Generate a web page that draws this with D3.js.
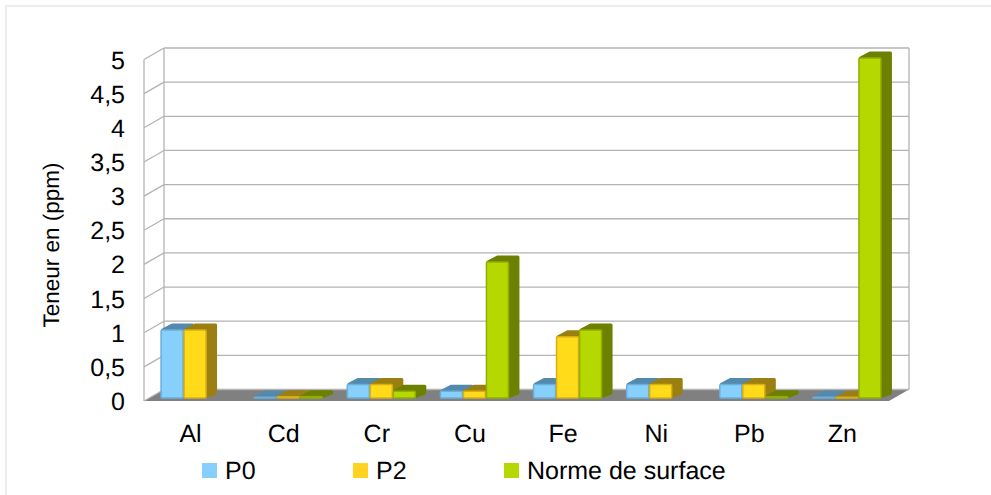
<!DOCTYPE html>
<html lang="fr">
<head>
<meta charset="utf-8">
<title>Teneur en (ppm)</title>
<script src="https://cdn.jsdelivr.net/npm/d3@7/dist/d3.min.js"></script>
<style>
  html, body { margin: 0; padding: 0; background: #fff; overflow: hidden; }
  text { font-family: "Liberation Sans", Arial, sans-serif; fill: #000; text-rendering: geometricPrecision; }
</style>
</head>
<body>
<svg width="991" height="495"></svg>
<script>
// values, null = no bar drawn
var categories = ['Al', 'Cd', 'Cr', 'Cu', 'Fe', 'Ni', 'Pb', 'Zn'];
var seriesNames = ['P0', 'P2', 'Norme de surface'];
var p0 = [1, 0.01, 0.2, 0.1, 0.2, 0.2, 0.2, 0.01];
var p2 = [1, 0.02, 0.2, 0.1, 0.9, 0.2, 0.2, 0.01];
var norme = [null, 0.02, 0.1, 2, 1, null, 0.02, 5];
var yTicks = [0, 0.5, 1, 1.5, 2, 2.5, 3, 3.5, 4, 4.5, 5];

var seriesValues = [p0, p2, norme];
var seriesColors = [
    {front: '#87cffd', edge: '#6aaedb', side: '#5389ad', top: '#5389ad'},
    {front: '#ffdb1a', edge: '#d9ae14', side: '#9a7f12', top: '#9a7f12'},
    {front: '#b5d800', edge: '#93ad00', side: '#6d8000', top: '#6d8000'}
];
var legendSwatch = ['#87cffd', '#ffd320', '#b5d800'];
var legendX = [202, 353, 504];

var svg = d3.select('svg');

// chart frame, runs off the right and bottom of the picture
svg.append('rect')
    .attr('x', 6).attr('y', 6)
    .attr('width', 1000).attr('height', 510)
    .style('fill', 'white')
    .style('stroke', '#e8e8e8')
    .style('stroke-width', 1.5);

// front plane of the 3d box, the back wall is shifted by depth
var plot = {left: 144, right: 889, top: 59.5, bottom: 401};
var depth = {x: 20, y: -11.5};

var x = d3.scaleBand()
    .domain(categories)
    .range([plot.left, plot.right]);

var inner = d3.scaleBand()
    .domain(d3.range(seriesNames.length))
    .range([0, 69]);

var y = d3.scaleLinear()
    .domain([0, 5])
    .range([plot.bottom, plot.top]);

// bars sit a little behind the front plane
var yBar = d3.scaleLinear()
    .domain([0, 5])
    .range([398, 58]);

var gridColor = '#b3b3b3';

// floor
svg.append('polygon')
    .attr('points', [
        [plot.left, plot.bottom],
        [plot.right, plot.bottom],
        [plot.right + depth.x, plot.bottom + depth.y],
        [plot.left + depth.x, plot.bottom + depth.y]
    ].join(' '))
    .style('fill', '#808080');

// grid on the back wall and on the left wall
var grid = svg.append('g')
    .style('stroke', gridColor)
    .style('stroke-width', 1.3)
    .style('fill', 'none');

grid.selectAll('line.back')
    .data(yTicks)
    .enter()
    .append('line')
    .attr('class', 'back')
    .attr('x1', plot.left + depth.x)
    .attr('x2', plot.right + depth.x)
    .attr('y1', d => y(d) + depth.y)
    .attr('y2', d => y(d) + depth.y);

grid.selectAll('line.wall')
    .data(yTicks)
    .enter()
    .append('line')
    .attr('class', 'wall')
    .attr('x1', plot.left)
    .attr('x2', plot.left + depth.x)
    .attr('y1', d => y(d))
    .attr('y2', d => y(d) + depth.y);

grid.append('line')
    .attr('x1', plot.left).attr('x2', plot.left)
    .attr('y1', y(5)).attr('y2', y(0));
grid.append('line')
    .attr('x1', plot.left + depth.x).attr('x2', plot.left + depth.x)
    .attr('y1', y(5) + depth.y).attr('y2', y(0) + depth.y);
grid.append('line')
    .attr('x1', plot.right + depth.x).attr('x2', plot.right + depth.x)
    .attr('y1', y(5) + depth.y).attr('y2', y(0) + depth.y);

// bars
var barShiftX = 5;
var barDepth = {x: 11, y: -6.5};
var gap = 1;
var corner = 1.5;

var bars = [];
categories.forEach(function(c, i) {
    seriesValues.forEach(function(vals, s) {
        if (vals[i] !== null) {
            bars.push({cat: c, s: s, value: vals[i]});
        }
    });
});

var barG = svg.selectAll('g.bar')
    .data(bars)
    .enter()
    .append('g')
    .attr('class', 'bar');

function barLeft(d) {
    return x(d.cat) + (x.bandwidth() - inner.range()[1]) / 2 + inner(d.s) + barShiftX;
}
function barRight(d) { return barLeft(d) + inner.bandwidth() - gap; }
function barBase() { return yBar(0); }
function barTop(d) { return yBar(d.value); }

// side and top faces, fat round stroke gives the soft far corners
barG.append('path')
    .attr('d', d => d3.line().curve(d3.curveLinearClosed)([
        [barLeft(d) + corner, barTop(d)],
        [barLeft(d) + barDepth.x, barTop(d) + barDepth.y + corner],
        [barRight(d) + barDepth.x - corner, barTop(d) + barDepth.y + corner],
        [barRight(d) + barDepth.x - corner, barBase() + barDepth.y + corner],
        [barRight(d), barBase() - corner]
    ]))
    .style('fill', d => seriesColors[d.s].side)
    .style('stroke', d => seriesColors[d.s].side)
    .style('stroke-linejoin', 'round')
    .style('stroke-width', corner * 2);

// front face
barG.append('rect')
    .attr('x', d => barLeft(d))
    .attr('y', d => barTop(d))
    .attr('width', d => barRight(d) - barLeft(d))
    .attr('height', d => barBase() - barTop(d))
    .attr('rx', 1)
    .style('fill', d => seriesColors[d.s].front)
    .style('stroke', d => seriesColors[d.s].edge)
    .style('stroke-width', 1.5);

// y tick labels, french decimal comma
svg.selectAll('text.ytick')
    .data(yTicks)
    .enter()
    .append('text')
    .attr('class', 'ytick')
    .attr('x', 125)
    .attr('y', d => y(d) + 9)
    .attr('text-anchor', 'end')
    .style('font-size', '25px')
    .text(d => String(d).replace('.', ','));

// x labels
svg.selectAll('text.xlabel')
    .data(categories)
    .enter()
    .append('text')
    .attr('class', 'xlabel')
    .attr('x', d => x(d) + x.bandwidth() / 2)
    .attr('y', 442)
    .attr('text-anchor', 'middle')
    .style('font-size', '25px')
    .text(d => d);

// y title
svg.append('text')
    .attr('transform', 'translate(59,245) rotate(-90)')
    .attr('text-anchor', 'middle')
    .style('font-size', '22.5px')
    .text('Teneur en (ppm)');

// legend
var legend = svg.selectAll('g.legend')
    .data(seriesNames)
    .enter()
    .append('g')
    .attr('class', 'legend')
    .attr('transform', (d, i) => 'translate(' + legendX[i] + ',463)');

legend.append('rect')
    .attr('width', 15)
    .attr('height', 15)
    .style('fill', (d, i) => legendSwatch[i]);

legend.append('text')
    .attr('x', 23)
    .attr('y', 16)
    .style('font-size', '25px')
    .text(d => d);
</script>
</body>
</html>
